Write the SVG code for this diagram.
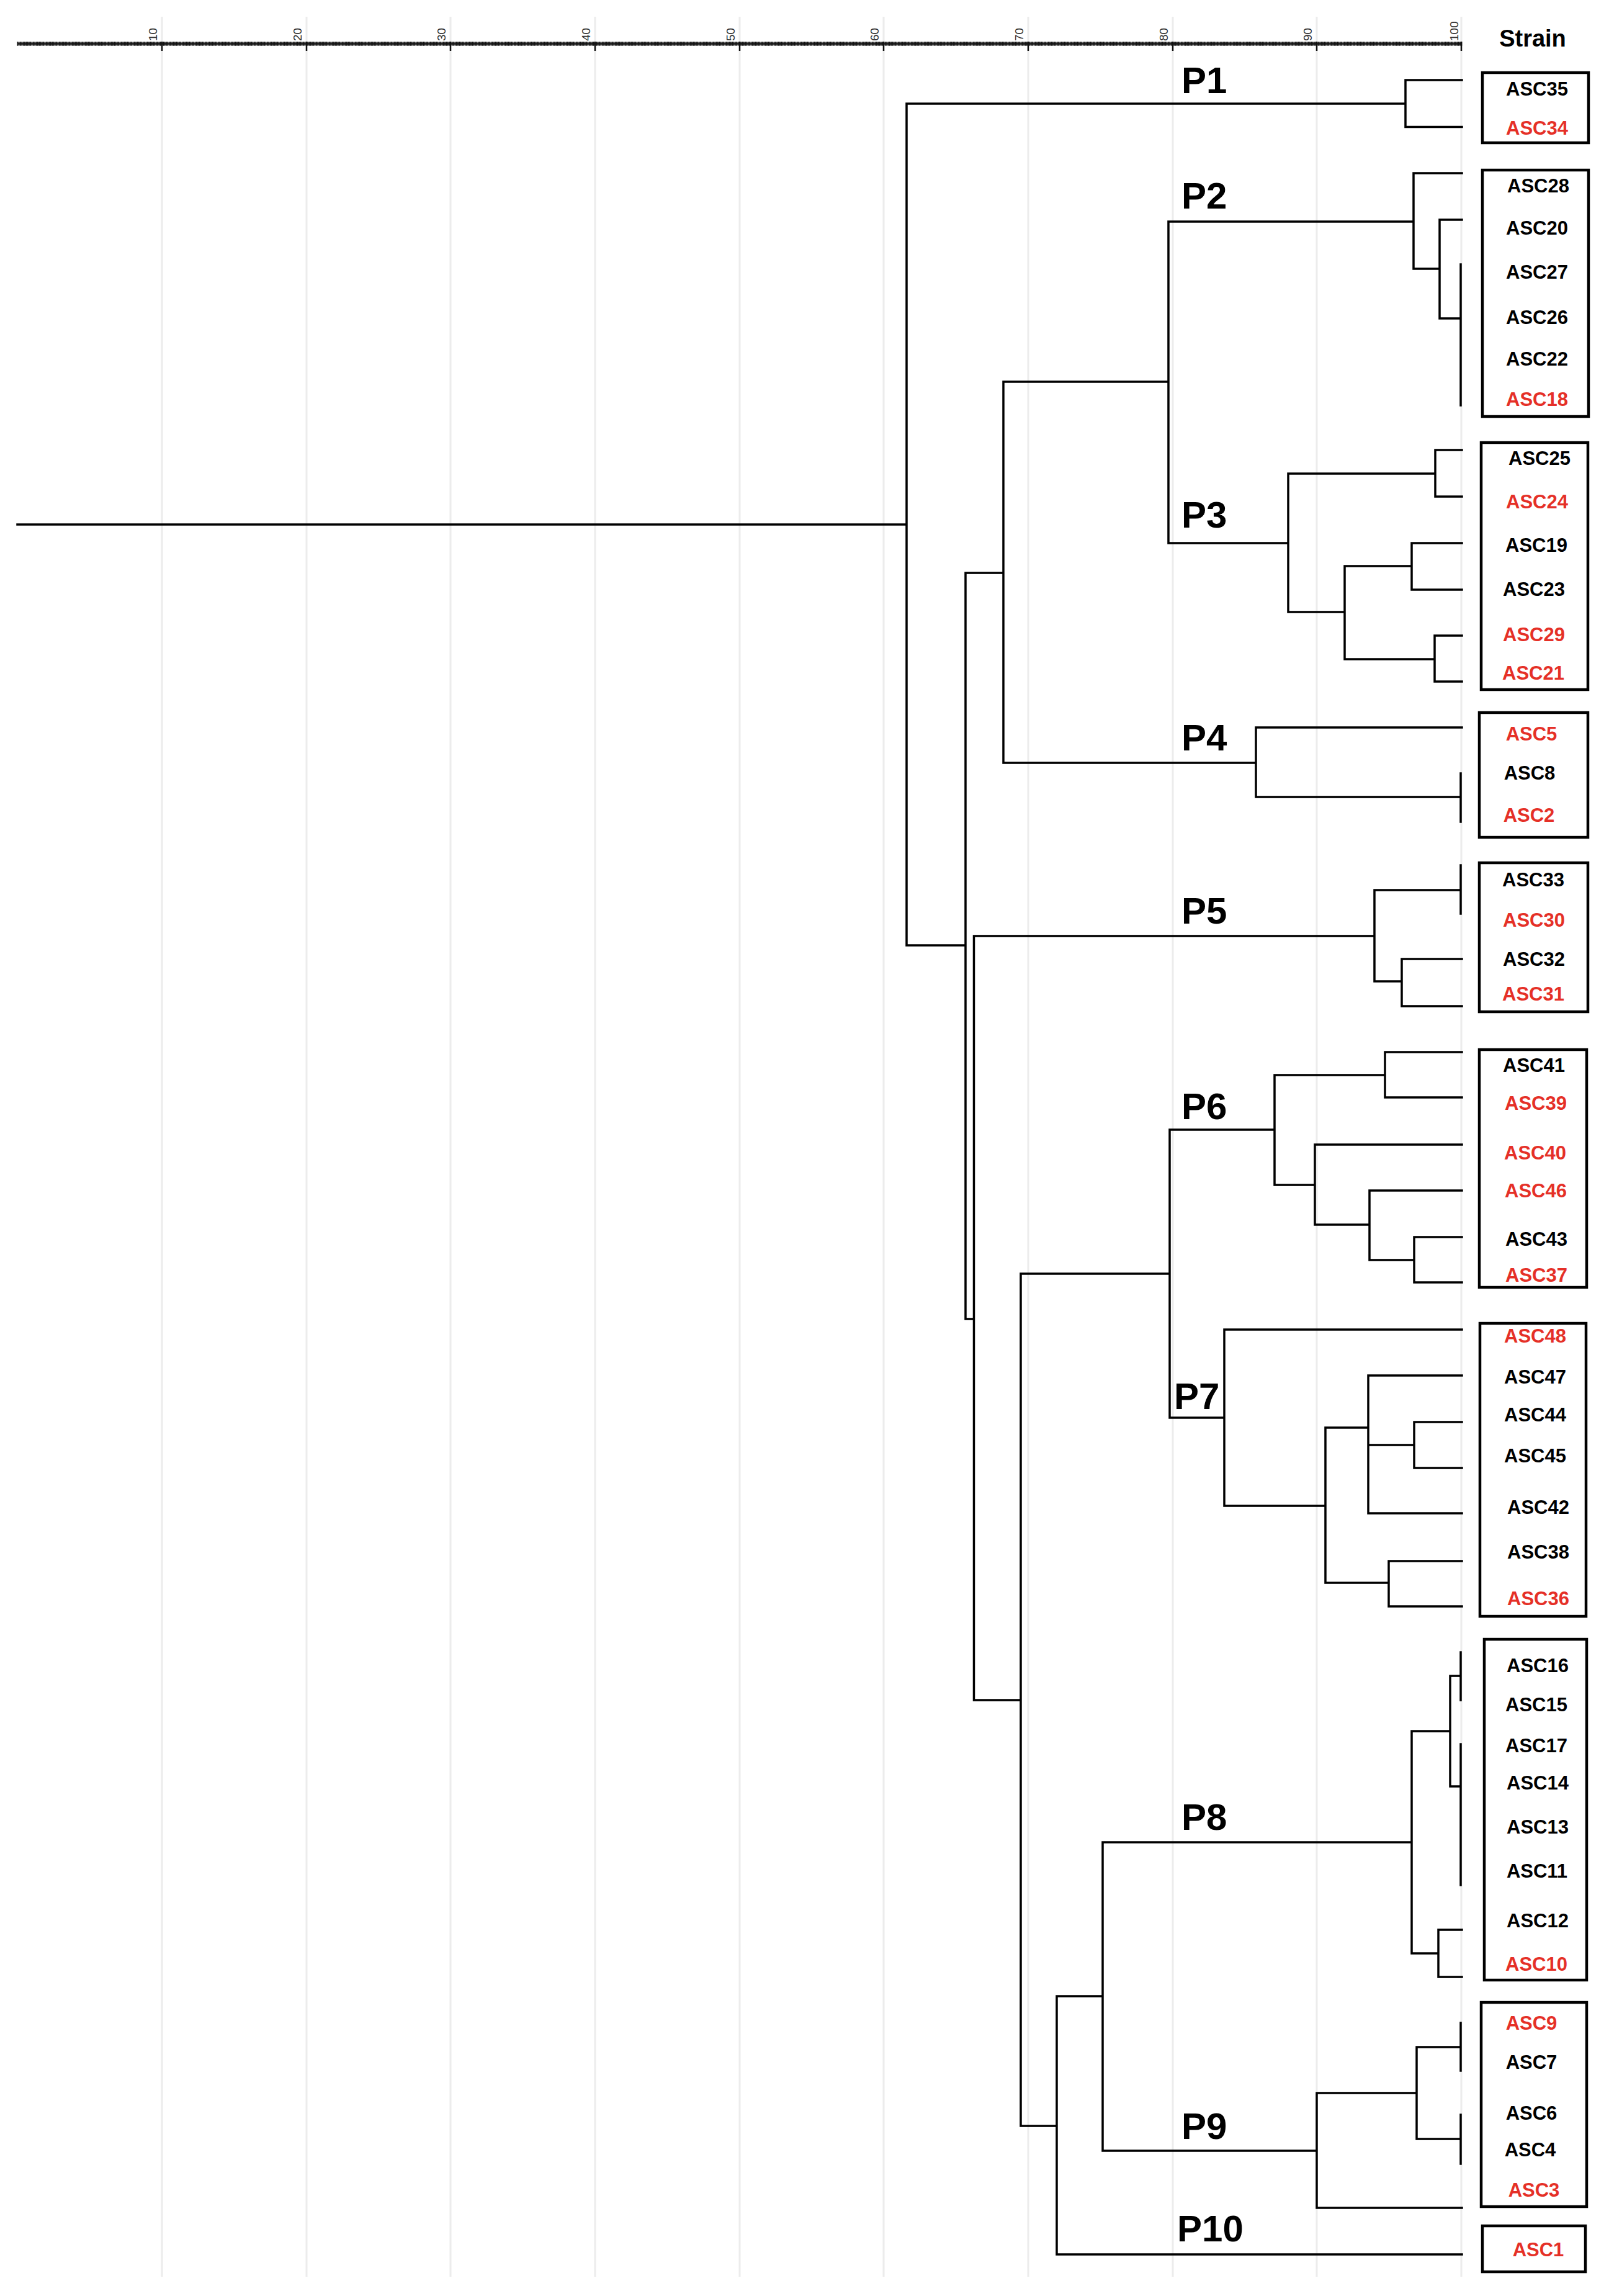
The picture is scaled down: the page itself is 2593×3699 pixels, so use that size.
<svg xmlns="http://www.w3.org/2000/svg" width="2593" height="3699" viewBox="0 0 2593 3699">
<style>
.grid{stroke:#ececec;stroke-width:3;fill:none}
.ln{stroke:#000;stroke-width:3.5;fill:none;stroke-linecap:square}
.box{fill:none;stroke:#000;stroke-width:4.5}
.lb{font-family:"Liberation Sans",Arial,sans-serif;font-weight:bold;font-size:31px;text-anchor:middle;fill:#000}
.r{fill:#e53027}
.pl{font-family:"Liberation Sans",Arial,sans-serif;font-weight:bold;font-size:60px;fill:#000}
.ax{font-family:"Liberation Sans",Arial,sans-serif;font-size:19px;fill:#333}
</style>
<rect width="2593" height="3699" fill="#fff"/>
<g id="grid">
<path class="grid" d="M261,27V3668M494,27V3668M726,27V3668M959,27V3668M1192,27V3668M1424,27V3668M1657,27V3668M1890,27V3668M2122,27V3668M2355,27V3668"/>
</g>
<g id="axis">
<line x1="28" y1="70.5" x2="2356" y2="70.5" stroke="#777" stroke-width="4.5"/>
<line x1="28" y1="70.5" x2="2356" y2="70.5" stroke="#222" stroke-width="2"/>
<line x1="27.5" y1="70.5" x2="2357" y2="70.5" stroke="#111" stroke-width="6.5" stroke-dasharray="1.6 0.727"/>
<path d="M261,67V82M494,67V82M726,67V82M959,67V82M1192,67V82M1424,67V82M1657,67V82M1890,67V82M2122,67V82M2355,67V82" stroke="#111" stroke-width="2.5"/>
<text class="ax" transform="translate(253,66) rotate(-90)">10</text>
<text class="ax" transform="translate(486,66) rotate(-90)">20</text>
<text class="ax" transform="translate(718,66) rotate(-90)">30</text>
<text class="ax" transform="translate(951,66) rotate(-90)">40</text>
<text class="ax" transform="translate(1184,66) rotate(-90)">50</text>
<text class="ax" transform="translate(1416,66) rotate(-90)">60</text>
<text class="ax" transform="translate(1649,66) rotate(-90)">70</text>
<text class="ax" transform="translate(1882,66) rotate(-90)">80</text>
<text class="ax" transform="translate(2114,66) rotate(-90)">90</text>
<text class="ax" transform="translate(2350,66) rotate(-90)">100</text>
<text x="2470" y="75" font-family="Liberation Sans, Arial, sans-serif" font-weight="bold" font-size="38" text-anchor="middle">Strain</text>
</g>
<g id="connectors">
<path class="ln" d="M28,845H1461M1461,167V1523
M1461,167H2265M2265,129V204.5M2265,129H2356M2265,204.5H2356
M1461,1523H1556M1556,923V2125
M1556,923H1617M1617,615V1229
M1617,615H1883M1883,357V875
M1883,357H2278M2278,279V433M2278,279H2356M2278,433H2320M2320,354V513M2320,354H2356M2320,513H2354M2354,426V653
M1883,875H2076M2076,763V986M2076,763H2313M2313,725V800M2313,725H2356M2313,800H2356M2076,986H2167M2167,912V1062M2167,912H2275M2275,875V950M2275,875H2356M2275,950H2356M2167,1062H2312M2312,1024V1098M2312,1024H2356M2312,1098H2356
M1617,1229H2024M2024,1172V1284M2024,1172H2356M2024,1284H2354M2354,1246V1324
M1556,2125H1569.5M1569.5,1508V2739
M1569.5,1508H2215M2215,1434V1581M2215,1434H2354M2354,1394V1472M2215,1581H2259M2259,1545V1621M2259,1545H2356M2259,1621H2356
M1569.5,2739H1645M1645,2052V3425
M1645,2052H1885M1885,1820V2284
M1885,1820H2054M2054,1732V1909M2054,1732H2232M2232,1695V1768M2232,1695H2356M2232,1768H2356M2054,1909H2119M2119,1844V1973M2119,1844H2356M2119,1973H2207M2207,1918V2030M2207,1918H2356M2207,2030H2279M2279,1993V2066M2279,1993H2356M2279,2066H2356
M1885,2284H1973M1973,2142V2426M1973,2142H2356M1973,2426H2136M2136,2300V2550M2136,2300H2205M2205,2216V2438M2205,2216H2356M2205,2438H2356M2205,2328H2279M2279,2291V2365M2279,2291H2356M2279,2365H2356M2136,2550H2238M2238,2515V2588M2238,2515H2356M2238,2588H2356
M1645,3425H1703M1703,3216V3632
M1703,3216H1777M1777,2968V3465
M1777,2968H2275M2275,2789V3147M2275,2789H2337M2337,2700V2878M2337,2700H2354M2354,2662V2739M2337,2878H2354M2354,2810V3037M2275,3147H2318M2318,3109V3185M2318,3109H2356M2318,3185H2356
M1777,3465H2122M2122,3372V3557M2122,3372H2283M2283,3298V3446M2283,3298H2354M2354,3259V3336M2283,3446H2354M2354,3407V3486M2122,3557H2356
M1703,3632H2356"/>
</g>
<g id="P1">
<text class="pl" x="1904" y="150">P1</text>
<rect class="box" x="2389" y="117" width="171" height="113"/>
<text class="lb" x="2477" y="154">ASC35</text>
<text class="lb r" x="2477" y="217">ASC34</text>
</g>
<g id="P2">
<text class="pl" x="1904" y="336">P2</text>
<rect class="box" x="2389" y="274" width="171" height="397"/>
<text class="lb" x="2479" y="310">ASC28</text>
<text class="lb" x="2477" y="378">ASC20</text>
<text class="lb" x="2477" y="449">ASC27</text>
<text class="lb" x="2477" y="522">ASC26</text>
<text class="lb" x="2477" y="589">ASC22</text>
<text class="lb r" x="2477" y="654">ASC18</text>
</g>
<g id="P3">
<text class="pl" x="1904" y="850">P3</text>
<rect class="box" x="2387" y="713" width="172" height="398"/>
<text class="lb" x="2481" y="749">ASC25</text>
<text class="lb r" x="2477" y="819">ASC24</text>
<text class="lb" x="2476" y="889">ASC19</text>
<text class="lb" x="2472" y="960">ASC23</text>
<text class="lb r" x="2472" y="1033">ASC29</text>
<text class="lb r" x="2471" y="1095">ASC21</text>
</g>
<g id="P4">
<text class="pl" x="1904" y="1209">P4</text>
<rect class="box" x="2384" y="1148" width="175" height="201"/>
<text class="lb r" x="2468" y="1193">ASC5</text>
<text class="lb" x="2465" y="1256">ASC8</text>
<text class="lb r" x="2464" y="1324">ASC2</text>
</g>
<g id="P5">
<text class="pl" x="1904" y="1488">P5</text>
<rect class="box" x="2384" y="1390" width="175" height="240"/>
<text class="lb" x="2471" y="1428">ASC33</text>
<text class="lb r" x="2472" y="1493">ASC30</text>
<text class="lb" x="2472" y="1556">ASC32</text>
<text class="lb r" x="2471" y="1612">ASC31</text>
</g>
<g id="P6">
<text class="pl" x="1904" y="1803">P6</text>
<rect class="box" x="2384" y="1691" width="173" height="383"/>
<text class="lb" x="2472" y="1727">ASC41</text>
<text class="lb r" x="2475" y="1788">ASC39</text>
<text class="lb r" x="2474" y="1868">ASC40</text>
<text class="lb r" x="2475" y="1929">ASC46</text>
<text class="lb" x="2476" y="2007">ASC43</text>
<text class="lb r" x="2476" y="2065">ASC37</text>
</g>
<g id="P7">
<text class="pl" x="1892" y="2270">P7</text>
<rect class="box" x="2385" y="2132" width="171" height="472"/>
<text class="lb r" x="2474" y="2163">ASC48</text>
<text class="lb" x="2474" y="2229">ASC47</text>
<text class="lb" x="2474" y="2290">ASC44</text>
<text class="lb" x="2474" y="2356">ASC45</text>
<text class="lb" x="2479" y="2439">ASC42</text>
<text class="lb" x="2479" y="2511">ASC38</text>
<text class="lb r" x="2479" y="2586">ASC36</text>
</g>
<g id="P8">
<text class="pl" x="1904" y="2948">P8</text>
<rect class="box" x="2392" y="2641" width="165" height="549"/>
<text class="lb" x="2478" y="2694">ASC16</text>
<text class="lb" x="2476" y="2757">ASC15</text>
<text class="lb" x="2476" y="2823">ASC17</text>
<text class="lb" x="2478" y="2883">ASC14</text>
<text class="lb" x="2478" y="2954">ASC13</text>
<text class="lb" x="2477" y="3025">ASC11</text>
<text class="lb" x="2478" y="3105">ASC12</text>
<text class="lb r" x="2476" y="3175">ASC10</text>
</g>
<g id="P9">
<text class="pl" x="1904" y="3446">P9</text>
<rect class="box" x="2387" y="3226" width="170" height="329"/>
<text class="lb r" x="2468" y="3270">ASC9</text>
<text class="lb" x="2468" y="3333">ASC7</text>
<text class="lb" x="2468" y="3415">ASC6</text>
<text class="lb" x="2466" y="3474">ASC4</text>
<text class="lb r" x="2472" y="3539">ASC3</text>
</g>
<g id="P10">
<text class="pl" x="1897" y="3611">P10</text>
<rect class="box" x="2389" y="3586" width="166" height="74"/>
<text class="lb r" x="2479" y="3635">ASC1</text>
</g>
</svg>
